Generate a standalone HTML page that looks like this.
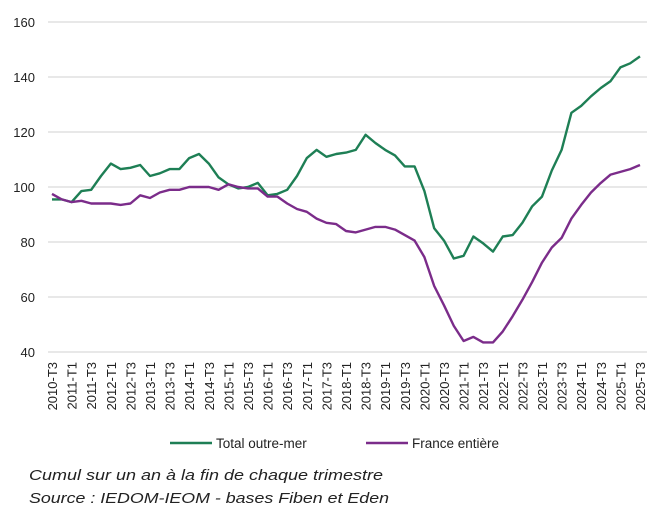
<!DOCTYPE html>
<html><head><meta charset="utf-8"><style>
html,body{margin:0;padding:0;background:#fff;}
svg{display:block;font-family:"Liberation Sans",Arial,sans-serif;}
</style></head><body>
<svg width="660" height="520" viewBox="0 0 660 520" xmlns="http://www.w3.org/2000/svg">
<g stroke="#d9d9d9" stroke-width="1.3">
<line x1="48" y1="22" x2="647" y2="22"/><line x1="48" y1="77" x2="647" y2="77"/>
<line x1="48" y1="132" x2="647" y2="132"/><line x1="48" y1="187" x2="647" y2="187"/>
<line x1="48" y1="242" x2="647" y2="242"/><line x1="48" y1="297" x2="647" y2="297"/>
<line x1="48" y1="352" x2="647" y2="352"/>
</g>
<g font-size="13" fill="#222" text-anchor="end">
<text x="35" y="27">160</text><text x="35" y="82">140</text><text x="35" y="137">120</text>
<text x="35" y="192">100</text><text x="35" y="247">80</text><text x="35" y="302">60</text><text x="35" y="357">40</text>
</g>
<polyline fill="none" stroke="#1e7f55" stroke-width="2.4" stroke-linejoin="round" points="52,199.4 61.8,199.4 71.6,202.1 81.4,191.1 91.2,189.8 101,176 110.8,163.6 120.6,169.1 130.4,167.8 140.2,165 150,176 159.8,173.3 169.6,169.1 179.4,169.1 189.2,158.1 199,154 208.8,163.6 218.6,177.4 228.4,184.3 238.2,188.4 248,187 257.8,182.9 267.6,195.3 277.4,193.9 287.2,189.8 297,176 306.8,158.1 316.6,149.9 326.4,156.8 336.2,154 346,152.6 355.8,149.9 365.6,134.8 375.4,143 385.2,149.9 395,155.4 404.8,166.4 414.6,166.4 424.4,191.1 434.2,228.3 444,240.6 453.8,258.5 463.6,255.8 473.4,236.5 483.2,243.4 493,251.6 502.8,236.5 512.6,235.1 522.4,222.8 532.2,206.3 542,196.6 551.8,170.5 561.6,149.9 571.4,112.8 581.2,105.9 591,96.3 600.8,88 610.6,81.1 620.4,67.4 630.2,63.3 640,56.4"/>
<polyline fill="none" stroke="#7b2c8a" stroke-width="2.4" stroke-linejoin="round" points="52,193.9 61.8,199.4 71.6,202.1 81.4,200.8 91.2,203.5 101,203.5 110.8,203.5 120.6,204.9 130.4,203.5 140.2,195.3 150,198 159.8,192.5 169.6,189.8 179.4,189.8 189.2,187 199,187 208.8,187 218.6,189.8 228.4,184.3 238.2,187 248,188.4 257.8,188.4 267.6,196.6 277.4,196.6 287.2,203.5 297,209 306.8,211.8 316.6,218.6 326.4,222.8 336.2,224.1 346,231 355.8,232.4 365.6,229.6 375.4,226.9 385.2,226.9 395,229.6 404.8,235.1 414.6,240.6 424.4,257.1 434.2,286 444,305.3 453.8,325.9 463.6,341 473.4,336.9 483.2,342.4 493,342.4 502.8,331.4 512.6,316.3 522.4,299.8 532.2,281.9 542,262.6 551.8,247.5 561.6,237.9 571.4,218.6 581.2,204.9 591,192.5 600.8,182.9 610.6,174.6 620.4,171.9 630.2,169.1 640,165"/>
<g font-size="13" fill="#222" text-anchor="end">
<text transform="translate(57,362) rotate(-90)">2010-T3</text>
<text transform="translate(76.6,362) rotate(-90)">2011-T1</text>
<text transform="translate(96.2,362) rotate(-90)">2011-T3</text>
<text transform="translate(115.8,362) rotate(-90)">2012-T1</text>
<text transform="translate(135.4,362) rotate(-90)">2012-T3</text>
<text transform="translate(155,362) rotate(-90)">2013-T1</text>
<text transform="translate(174.6,362) rotate(-90)">2013-T3</text>
<text transform="translate(194.2,362) rotate(-90)">2014-T1</text>
<text transform="translate(213.8,362) rotate(-90)">2014-T3</text>
<text transform="translate(233.4,362) rotate(-90)">2015-T1</text>
<text transform="translate(253,362) rotate(-90)">2015-T3</text>
<text transform="translate(272.6,362) rotate(-90)">2016-T1</text>
<text transform="translate(292.2,362) rotate(-90)">2016-T3</text>
<text transform="translate(311.8,362) rotate(-90)">2017-T1</text>
<text transform="translate(331.4,362) rotate(-90)">2017-T3</text>
<text transform="translate(351,362) rotate(-90)">2018-T1</text>
<text transform="translate(370.6,362) rotate(-90)">2018-T3</text>
<text transform="translate(390.2,362) rotate(-90)">2019-T1</text>
<text transform="translate(409.8,362) rotate(-90)">2019-T3</text>
<text transform="translate(429.4,362) rotate(-90)">2020-T1</text>
<text transform="translate(449,362) rotate(-90)">2020-T3</text>
<text transform="translate(468.6,362) rotate(-90)">2021-T1</text>
<text transform="translate(488.2,362) rotate(-90)">2021-T3</text>
<text transform="translate(507.8,362) rotate(-90)">2022-T1</text>
<text transform="translate(527.4,362) rotate(-90)">2022-T3</text>
<text transform="translate(547,362) rotate(-90)">2023-T1</text>
<text transform="translate(566.6,362) rotate(-90)">2023-T3</text>
<text transform="translate(586.2,362) rotate(-90)">2024-T1</text>
<text transform="translate(605.8,362) rotate(-90)">2024-T3</text>
<text transform="translate(625.4,362) rotate(-90)">2025-T1</text>
<text transform="translate(645,362) rotate(-90)">2025-T3</text>
</g>
<line x1="170" y1="443" x2="212" y2="443" stroke="#1e7f55" stroke-width="2.4"/>
<text x="216" y="448" font-size="13.5" fill="#222">Total outre-mer</text>
<line x1="366" y1="443" x2="408" y2="443" stroke="#7b2c8a" stroke-width="2.4"/>
<text x="412" y="448" font-size="13.5" fill="#222">France entière</text>
<g font-size="15" font-style="italic" fill="#222">
<text x="29" y="480" textLength="354" lengthAdjust="spacingAndGlyphs">Cumul sur un an à la fin de chaque trimestre</text>
<text x="29" y="503" textLength="360" lengthAdjust="spacingAndGlyphs">Source : IEDOM-IEOM - bases Fiben et Eden</text>
</g>
</svg>
</body></html>
